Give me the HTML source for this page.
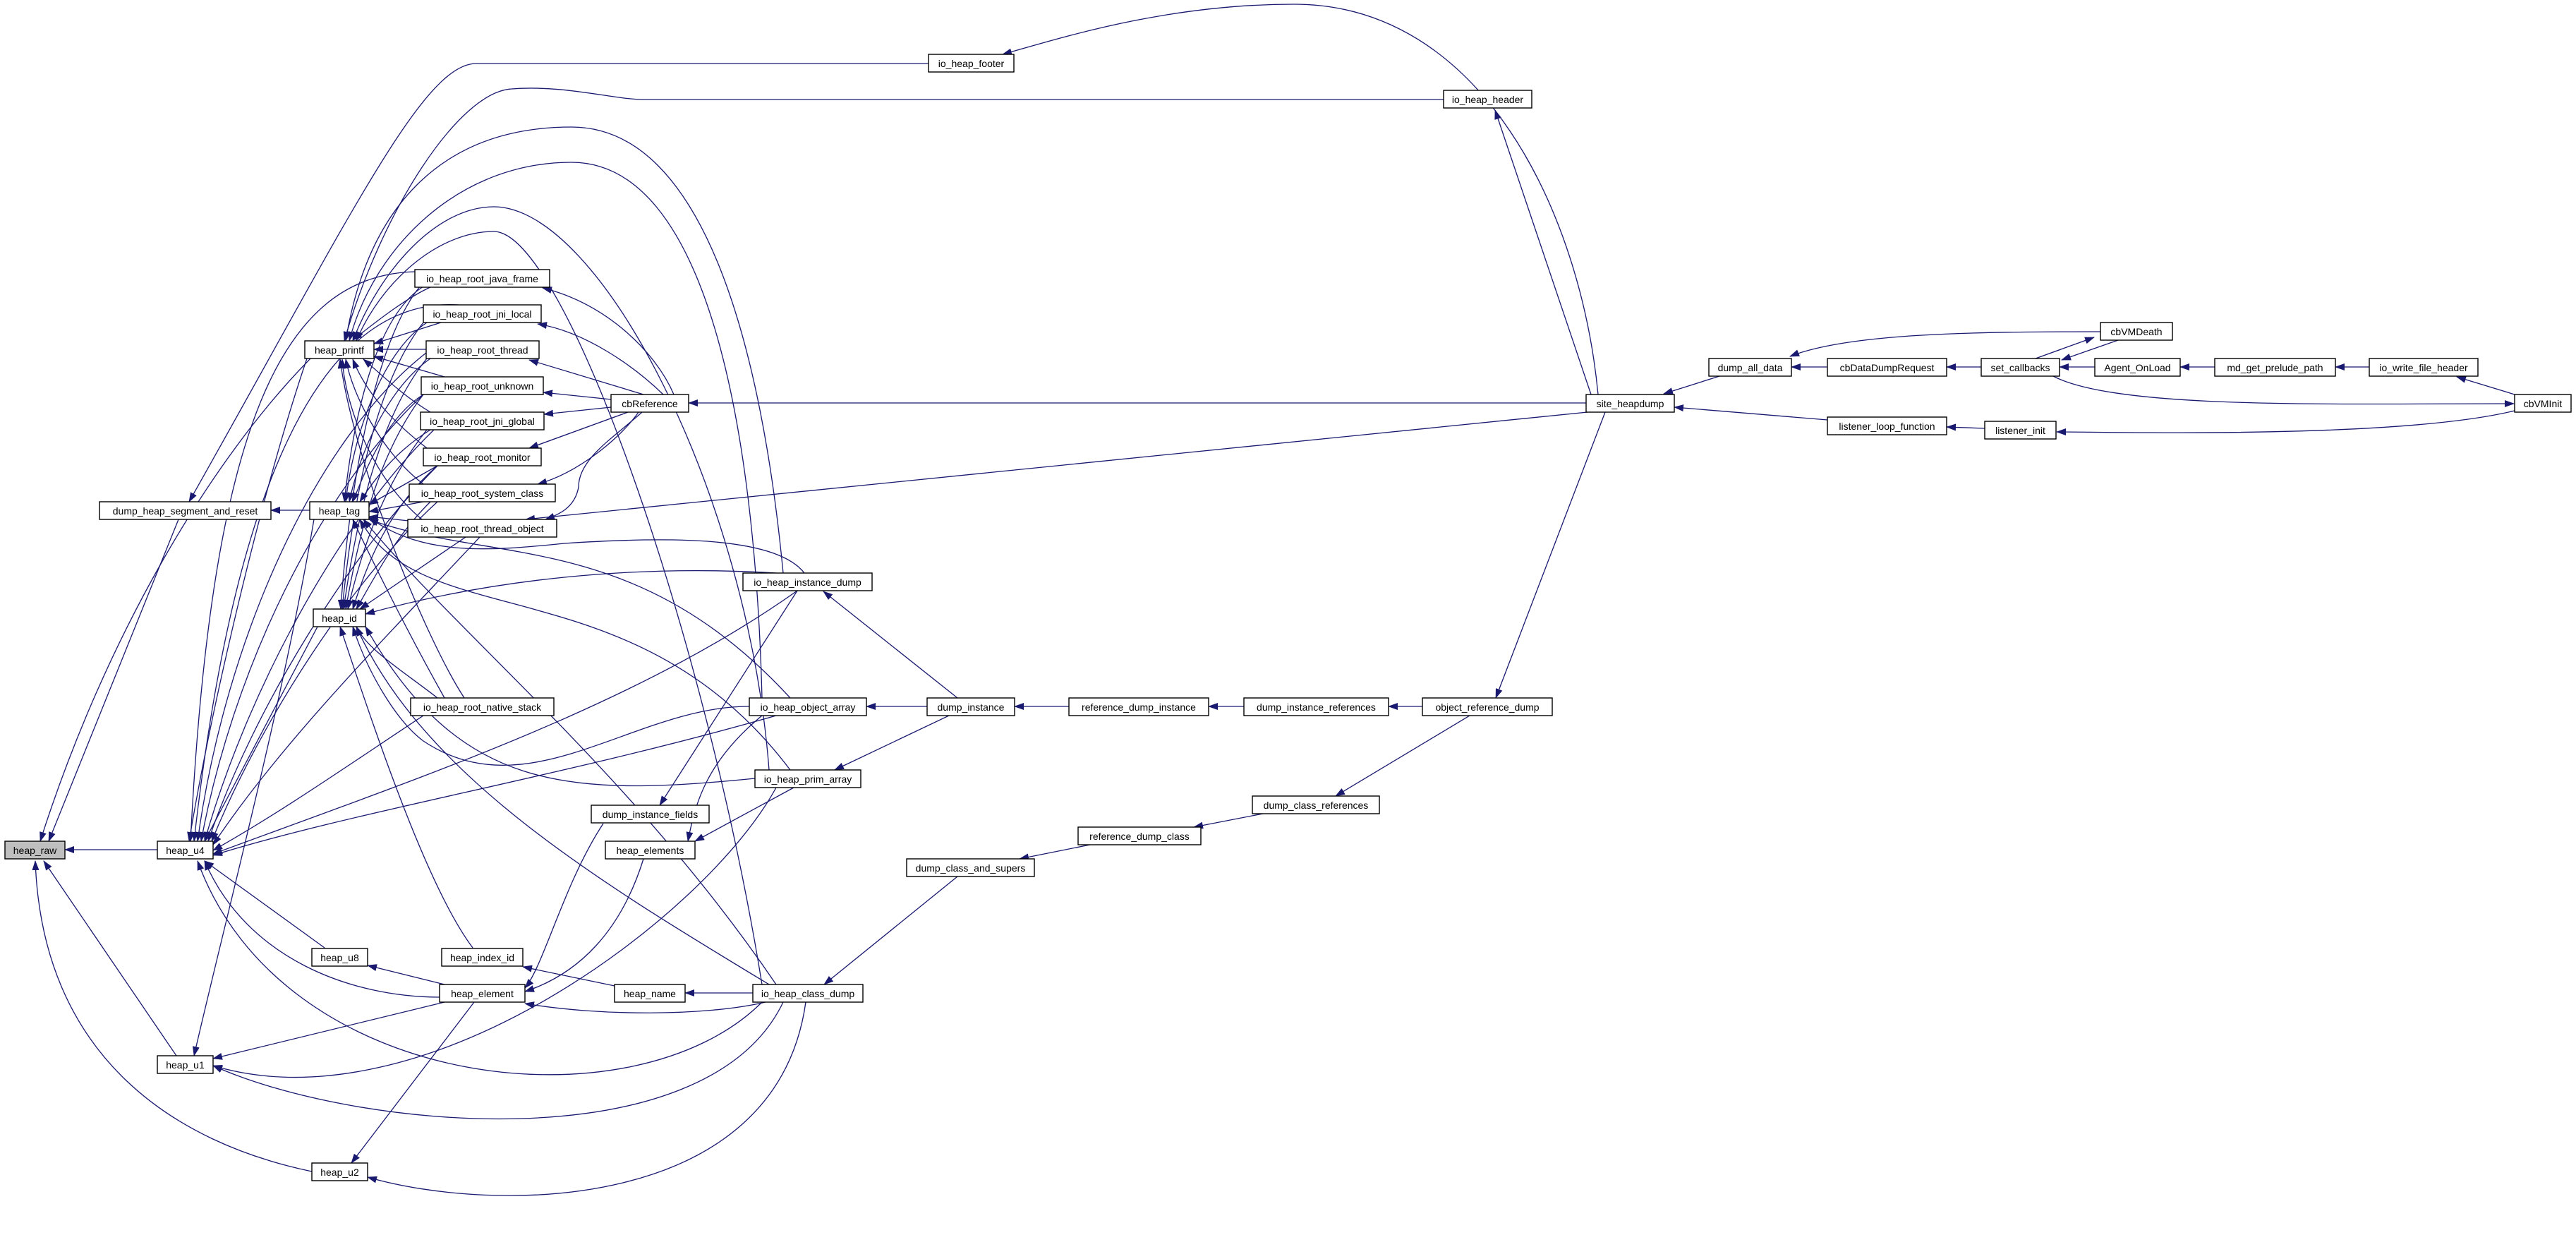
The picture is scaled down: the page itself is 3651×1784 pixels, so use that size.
<!DOCTYPE html>
<html><head><meta charset="utf-8"><style>
html,body{margin:0;padding:0;background:#fff;}
svg{display:block;}
text{font-family:"Liberation Sans",sans-serif;font-size:14px;fill:#000;text-anchor:middle;}
.e{fill:none;stroke:#191970;stroke-width:1.3;marker-end:url(#a);}
.n{fill:#fff;stroke:#000;stroke-width:1.4;}
</style></head><body>
<svg width="3651" height="1784" viewBox="0 0 3651 1784" xmlns="http://www.w3.org/2000/svg">
<defs><marker id="a" markerWidth="14" markerHeight="10" refX="13" refY="5" orient="auto" markerUnits="userSpaceOnUse"><path d="M0,0 L14,5 L0,10 z" fill="#191970"/></marker></defs>
<g>
<!-- right cluster -->
<path class="e" d="M2808,520 L2759,520"/>
<path class="e" d="M2590,520 L2539,520"/>
<path class="e" d="M2437,533 L2358,558"/>
<path class="e" d="M2977,470 C2800,470 2620,472 2537,505"/>
<path class="e" d="M3002,482 L2922,510"/>
<path class="e" d="M2885,508 L2968,478"/>
<path class="e" d="M2969,520 L2919,520"/>
<path class="e" d="M3139,520 L3090,520"/>
<path class="e" d="M3358,520 L3310,520"/>
<path class="e" d="M3564,559 L3482,534"/>
<path class="e" d="M2910,533 C3000,580 3300,572 3563,572"/>
<path class="e" d="M3564,582 C3400,622 3000,612 2915,612"/>
<path class="e" d="M2813,607 L2759,605"/>
<path class="e" d="M2590,595 L2373,577"/>
<path class="e" d="M2265,559 C2240,300 2100,6 1834,6 C1650,6 1500,55 1421,77"/>
<path class="e" d="M2255,559 L2119,156"/>
<path class="e" d="M2248,571 L976,571"/>
<path class="e" d="M2250,584 L745,736"/>
<path class="e" d="M2275,584 L2120,989"/>
<path class="e" d="M2016,1001 L1968,1001"/>
<path class="e" d="M1763,1001 L1713,1001"/>
<path class="e" d="M1515,1001 L1438,1001"/>
<path class="e" d="M1314,1001 L1228,1001"/>
<path class="e" d="M1357,989 L1167,838"/>
<path class="e" d="M1345,1014 L1183,1091"/>
<path class="e" d="M2083,1014 L1893,1128"/>
<path class="e" d="M1790,1153 L1692,1172"/>
<path class="e" d="M1545,1197 L1445,1217"/>
<path class="e" d="M1357,1242 L1168,1395"/>
<!-- cbReference -->
<path class="e" d="M955,559 C930,500 860,430 769,408"/>
<path class="e" d="M940,559 C900,520 830,470 762,459"/>
<path class="e" d="M912,559 L750,510"/>
<path class="e" d="M866,566 L770,556"/>
<path class="e" d="M866,577 L771,587"/>
<path class="e" d="M890,584 L750,635"/>
<path class="e" d="M905,584 C880,620 820,670 762,686"/>
<path class="e" d="M910,584 C870,620 820,650 820,690 C815,720 790,730 773,736"/>
<!-- roots to heap_printf -->
<path class="e" d="M612,406 C580,420 540,450 500,482"/>
<path class="e" d="M625,457 L530,487"/>
<path class="e" d="M604,495 L530,495"/>
<path class="e" d="M630,534 L530,505"/>
<path class="e" d="M610,584 C570,560 540,530 515,509"/>
<path class="e" d="M605,635 C560,600 520,560 500,509"/>
<path class="e" d="M600,686 C540,640 500,560 490,509"/>
<path class="e" d="M598,736 C530,680 490,580 485,509"/>
<path class="e" d="M658,989 C600,900 500,650 482,509"/>
<!-- roots to heap_tag -->
<path class="e" d="M600,406 C530,450 500,600 488,711"/>
<path class="e" d="M605,457 C540,500 500,620 490,711"/>
<path class="e" d="M610,508 C550,550 510,640 495,711"/>
<path class="e" d="M600,559 C550,590 520,660 500,711"/>
<path class="e" d="M610,609 C560,640 530,680 510,711"/>
<path class="e" d="M620,660 L523,715"/>
<path class="e" d="M600,711 L523,725"/>
<path class="e" d="M598,740 L523,732"/>
<path class="e" d="M630,989 C580,900 530,800 500,736"/>
<!-- roots to heap_id -->
<path class="e" d="M595,406 C520,500 490,750 483,863"/>
<path class="e" d="M600,457 C520,560 495,760 485,863"/>
<path class="e" d="M605,508 C530,600 500,770 487,863"/>
<path class="e" d="M600,559 C530,650 505,780 490,863"/>
<path class="e" d="M605,609 C540,690 510,790 493,863"/>
<path class="e" d="M620,660 C550,720 520,800 500,863"/>
<path class="e" d="M610,711 C560,760 530,820 505,863"/>
<path class="e" d="M660,761 L510,863"/>
<path class="e" d="M620,989 C570,950 520,920 505,888"/>
<!-- roots to heap_u4 -->
<path class="e" d="M588,385 C400,390 300,600 270,1192"/>
<path class="e" d="M650,432 C450,420 330,700 275,1192"/>
<path class="e" d="M604,500 C450,620 320,900 280,1192"/>
<path class="e" d="M600,559 C450,700 330,950 285,1192"/>
<path class="e" d="M615,609 C480,740 350,980 290,1192"/>
<path class="e" d="M620,660 C500,780 360,1000 295,1192"/>
<path class="e" d="M620,711 C500,820 370,1020 300,1192"/>
<path class="e" d="M680,761 C550,900 400,1050 302,1197"/>
<path class="e" d="M600,1014 C500,1080 400,1150 302,1205"/>
<!-- dumps -->
<path class="e" d="M1110,812 C1080,500 1000,180 810,180 C620,180 520,300 490,483"/>
<path class="e" d="M1080,989 C1070,600 1000,230 810,230 C650,230 530,350 495,483"/>
<path class="e" d="M1090,1091 C1060,700 850,293 700,293 C620,293 540,380 500,483"/>
<path class="e" d="M1080,1395 C1000,900 800,328 700,328 C620,328 540,400 505,483"/>
<path class="e" d="M2046,141 L912,141 C870,141 800,120 725,126 C650,130 540,300 488,483"/>
<path class="e" d="M1316,90 L675,90 C600,90 500,300 268,711"/>
<path class="e" d="M1140,812 C1100,760 950,760 800,770 C700,780 600,790 523,733"/>
<path class="e" d="M1100,812 C900,800 700,820 518,870"/>
<path class="e" d="M1130,837 C900,1000 600,1100 302,1210"/>
<path class="e" d="M1120,989 C900,750 700,800 523,736"/>
<path class="e" d="M1062,1001 C900,1000 750,1150 600,1050 C560,1020 520,950 500,888"/>
<path class="e" d="M1100,1014 C800,1100 500,1150 302,1212"/>
<path class="e" d="M1120,1091 C900,800 600,900 510,736"/>
<path class="e" d="M1070,1103 C800,1130 650,1120 518,888"/>
<path class="e" d="M1100,1116 C1000,1300 600,1600 302,1510"/>
<path class="e" d="M1100,1395 C900,1100 650,900 515,736"/>
<path class="e" d="M1090,1395 C850,1250 600,1100 505,888"/>
<!-- lower left -->
<path class="e" d="M439,723 L384,723"/>
<path class="e" d="M440,508 C300,650 150,900 57,1192"/>
<path class="e" d="M253,736 L69,1192"/>
<path class="e" d="M223,1204 L92,1204"/>
<path class="e" d="M250,1496 L62,1220"/>
<path class="e" d="M442,1660 C250,1620 60,1500 50,1220"/>
<path class="e" d="M450,888 L290,1192"/>
<path class="e" d="M435,508 C370,700 300,1000 268,1192"/>
<path class="e" d="M445,736 C400,1000 320,1300 275,1496"/>
<path class="e" d="M460,1343 L290,1220"/>
<path class="e" d="M630,1395 L521,1368"/>
<path class="e" d="M630,1420 L302,1500"/>
<path class="e" d="M672,1420 L498,1648"/>
<path class="e" d="M623,1413 C500,1413 350,1360 290,1220"/>
<path class="e" d="M871,1397 L741,1370"/>
<path class="e" d="M1067,1407 L971,1407"/>
<path class="e" d="M1085,1420 C1000,1440 850,1440 744,1422"/>
<path class="e" d="M670,1343 C600,1250 520,1000 482,888"/>
<path class="e" d="M912,1217 C880,1320 820,1380 744,1405"/>
<path class="e" d="M1125,1116 L985,1192"/>
<path class="e" d="M1080,1014 C1000,1080 985,1140 975,1192"/>
<path class="e" d="M1130,837 L935,1141"/>
<path class="e" d="M855,1167 C800,1250 770,1370 744,1400"/>
<path class="e" d="M1110,1420 C1000,1650 500,1600 302,1510"/>
<path class="e" d="M1142,1420 C1100,1720 700,1720 521,1668"/>
<path class="e" d="M1080,1420 C900,1600 400,1550 280,1220"/>
</g>
<g>
<rect class="n" x="7" y="1192" width="85" height="25" style="fill:#bfbfbf"/><text x="49.5" y="1210">heap_raw</text>
<rect class="n" x="223" y="1192" width="79" height="25"/><text x="262.5" y="1210">heap_u4</text>
<rect class="n" x="141" y="711" width="243" height="25"/><text x="262.5" y="729">dump_heap_segment_and_reset</text>
<rect class="n" x="432" y="483" width="98" height="25"/><text x="481" y="501">heap_printf</text>
<rect class="n" x="439" y="711" width="84" height="25"/><text x="481" y="729">heap_tag</text>
<rect class="n" x="444" y="863" width="74" height="25"/><text x="481" y="881">heap_id</text>
<rect class="n" x="223" y="1496" width="79" height="25"/><text x="262.5" y="1514">heap_u1</text>
<rect class="n" x="442" y="1648" width="79" height="25"/><text x="481.5" y="1666">heap_u2</text>
<rect class="n" x="442" y="1344" width="79" height="25"/><text x="481.5" y="1362">heap_u8</text>
<rect class="n" x="626" y="1344" width="115" height="25"/><text x="683.5" y="1362">heap_index_id</text>
<rect class="n" x="623" y="1395" width="121" height="25"/><text x="683.5" y="1413">heap_element</text>
<rect class="n" x="871" y="1395" width="100" height="25"/><text x="921" y="1413">heap_name</text>
<rect class="n" x="1067" y="1395" width="156" height="25"/><text x="1145" y="1413">io_heap_class_dump</text>
<rect class="n" x="838" y="1141" width="167" height="25"/><text x="921.5" y="1159">dump_instance_fields</text>
<rect class="n" x="858" y="1192" width="127" height="25"/><text x="921.5" y="1210">heap_elements</text>
<rect class="n" x="1070" y="1091" width="150" height="25"/><text x="1145" y="1109">io_heap_prim_array</text>
<rect class="n" x="1062" y="989" width="166" height="25"/><text x="1145" y="1007">io_heap_object_array</text>
<rect class="n" x="1053" y="812" width="183" height="25"/><text x="1144.5" y="830">io_heap_instance_dump</text>
<rect class="n" x="582" y="989" width="203" height="25"/><text x="683.5" y="1007">io_heap_root_native_stack</text>
<rect class="n" x="588" y="382" width="191" height="25"/><text x="683.5" y="400">io_heap_root_java_frame</text>
<rect class="n" x="600" y="432" width="167" height="25"/><text x="683.5" y="450">io_heap_root_jni_local</text>
<rect class="n" x="604" y="483" width="160" height="25"/><text x="684" y="501">io_heap_root_thread</text>
<rect class="n" x="597" y="534" width="173" height="25"/><text x="683.5" y="552">io_heap_root_unknown</text>
<rect class="n" x="596" y="584" width="175" height="25"/><text x="683.5" y="602">io_heap_root_jni_global</text>
<rect class="n" x="600" y="635" width="167" height="25"/><text x="683.5" y="653">io_heap_root_monitor</text>
<rect class="n" x="580" y="686" width="207" height="25"/><text x="683.5" y="704">io_heap_root_system_class</text>
<rect class="n" x="578" y="736" width="211" height="25"/><text x="683.5" y="754">io_heap_root_thread_object</text>
<rect class="n" x="866" y="559" width="110" height="25"/><text x="921" y="577">cbReference</text>
<rect class="n" x="1316" y="77" width="121" height="25"/><text x="1376.5" y="95">io_heap_footer</text>
<rect class="n" x="2046" y="128" width="125" height="25"/><text x="2108.5" y="146">io_heap_header</text>
<rect class="n" x="2248" y="559" width="125" height="25"/><text x="2310.5" y="577">site_heapdump</text>
<rect class="n" x="2422" y="508" width="117" height="25"/><text x="2480.5" y="526">dump_all_data</text>
<rect class="n" x="2590" y="508" width="169" height="25"/><text x="2674.5" y="526">cbDataDumpRequest</text>
<rect class="n" x="2808" y="508" width="111" height="25"/><text x="2863.5" y="526">set_callbacks</text>
<rect class="n" x="2977" y="457" width="102" height="25"/><text x="3028" y="475">cbVMDeath</text>
<rect class="n" x="2969" y="508" width="121" height="25"/><text x="3029.5" y="526">Agent_OnLoad</text>
<rect class="n" x="3139" y="508" width="171" height="25"/><text x="3224.5" y="526">md_get_prelude_path</text>
<rect class="n" x="3358" y="508" width="154" height="25"/><text x="3435" y="526">io_write_file_header</text>
<rect class="n" x="3564" y="559" width="80" height="25"/><text x="3604" y="577">cbVMInit</text>
<rect class="n" x="2590" y="591" width="169" height="25"/><text x="2674.5" y="609">listener_loop_function</text>
<rect class="n" x="2813" y="597" width="101" height="25"/><text x="2863.5" y="615">listener_init</text>
<rect class="n" x="1314" y="989" width="124" height="25"/><text x="1376" y="1007">dump_instance</text>
<rect class="n" x="1515" y="989" width="198" height="25"/><text x="1614" y="1007">reference_dump_instance</text>
<rect class="n" x="1763" y="989" width="205" height="25"/><text x="1865.5" y="1007">dump_instance_references</text>
<rect class="n" x="2016" y="989" width="184" height="25"/><text x="2108" y="1007">object_reference_dump</text>
<rect class="n" x="1775" y="1128" width="180" height="25"/><text x="1865" y="1146">dump_class_references</text>
<rect class="n" x="1528" y="1172" width="174" height="25"/><text x="1615" y="1190">reference_dump_class</text>
<rect class="n" x="1285" y="1217" width="181" height="25"/><text x="1375.5" y="1235">dump_class_and_supers</text>
</g>
</svg>
</body></html>
